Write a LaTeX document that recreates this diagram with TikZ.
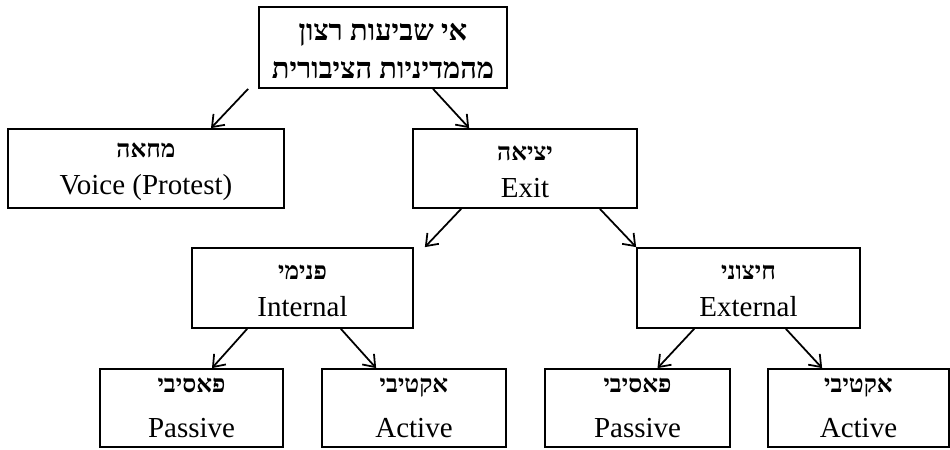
\documentclass[tikz,border=0pt]{standalone}
\usepackage{fontspec}
\setmainfont{Liberation Serif}
\newfontfamily\hebfont[Script=Hebrew]{Liberation Serif}
\TeXXeTstate=1
\usetikzlibrary{arrows.meta}
\newcommand{\heb}[2][0pt]{{\rule{0pt}{#1}\hebfont\bfseries\fontsize{14}{17}\selectfont\beginR #2\endR}}
\newcommand{\hebtitle}[2][0pt]{{\rule{0pt}{#1}\hebfont\bfseries\fontsize{16.5}{20}\selectfont\beginR #2\endR}}

\begin{document}
\begin{tikzpicture}[
    catbox/.style={draw=black, line width=1pt, minimum height=1.58cm, inner sep=0pt, align=center, font=\fontsize{16.5}{20}\selectfont},
    link/.style={-{Straight Barb[length=6pt,width=9pt]}, line width=1pt}
]
    \useasboundingbox (0,0) rectangle (19,8.98);
    % Nodes
    \node[catbox, minimum width=4.96cm, minimum height=1.62cm] (root) at (7.66,8.03) {\hebtitle[14pt]{אי שביעות רצון}\\[2pt] \hebtitle{מהמדיניות הציבורית}};

    \node[catbox, minimum width=5.52cm] (voice) at (2.92,5.61) {\heb[12pt]{מחאה}\\[1pt] Voice (Protest)};
    \node[catbox, minimum width=4.48cm] (exit) at (10.5,5.61) {\heb[12pt]{יציאה}\\[1pt] Exit};

    \node[catbox, minimum width=4.42cm, minimum height=1.6cm] (internal) at (6.05,3.22) {\heb[12pt]{פנימי}\\[1pt] Internal};
    \node[catbox, minimum width=4.46cm, minimum height=1.6cm] (external) at (14.97,3.22) {\heb[12pt]{חיצוני}\\[1pt] External};

    \node[catbox, minimum width=3.66cm, minimum height=1.56cm] (inpassive) at (3.83,0.82) {\heb{פאסיבי}\\[6pt] Passive};
    \node[catbox, minimum width=3.68cm, minimum height=1.56cm] (inactive) at (8.28,0.82) {\heb{אקטיבי}\\[6pt] Active};
    \node[catbox, minimum width=3.70cm, minimum height=1.56cm] (expassive) at (12.75,0.82) {\heb{פאסיבי}\\[6pt] Passive};
    \node[catbox, minimum width=3.62cm, minimum height=1.56cm] (exactive) at (17.17,0.82) {\heb{אקטיבי}\\[6pt] Active};

    % Arrows
    \draw[link] ([xshift=-0.2cm]root.south west) -- ([xshift=1.3cm]voice.north);
    \draw[link] ([xshift=1.0cm]root.south) -- ([xshift=1.14cm]exit.north west);
    \draw[link] ([xshift=0.98cm]exit.south west) -- ([xshift=0.22cm]internal.north east);
    \draw[link] ([xshift=-0.76cm]exit.south east) -- (external.north west);
    \draw[link] ([xshift=1.12cm]internal.south west) -- ([xshift=0.41cm]inpassive.north);
    \draw[link] ([xshift=-1.46cm]internal.south east) -- ([xshift=1.1cm]inactive.north west);
    \draw[link] ([xshift=1.16cm]external.south west) -- ([xshift=0.4cm]expassive.north);
    \draw[link] ([xshift=-1.5cm]external.south east) -- ([xshift=1.1cm]exactive.north west);
\end{tikzpicture}
\end{document}
